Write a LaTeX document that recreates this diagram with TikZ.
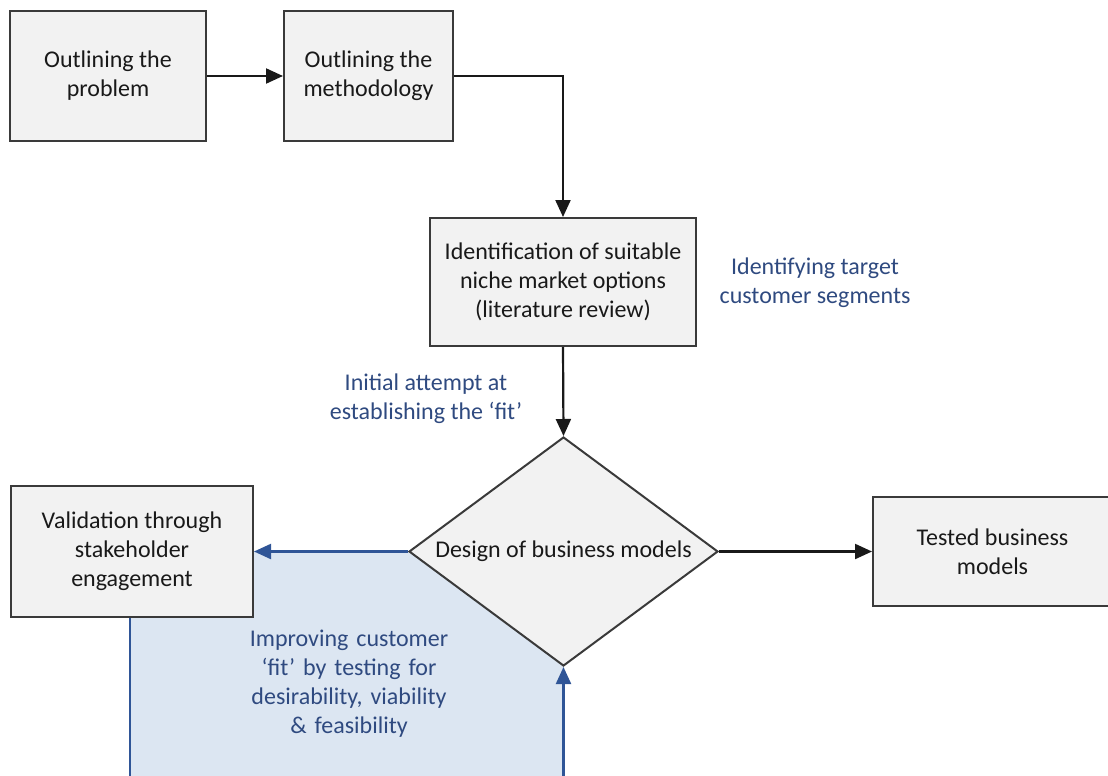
\documentclass[tikz,border=0pt]{standalone}
\usepackage{fontspec}
\setmainfont{Carlito}
\usetikzlibrary{arrows.meta,shapes.geometric}
\definecolor{boxfill}{HTML}{F2F2F2}
\definecolor{boxline}{HTML}{3A3A3A}
\definecolor{bluetxt}{HTML}{2F4A80}
\definecolor{blueline}{HTML}{2F5597}
\definecolor{bluefill}{HTML}{DCE6F2}
\tikzset{
  stepbox/.style={draw=boxline, fill=boxfill, line width=2pt, rectangle, align=center, inner sep=0pt, font=\fontsize{24}{29}\selectfont, text=black!90},
  decision/.style={draw=boxline, fill=boxfill, line width=2pt, diamond, inner sep=0pt},
  blacklink/.style={draw=black!90, line width=2.2pt, -{Triangle[length=17pt,width=15pt]}},
  bluelink/.style={draw=blueline, line width=2.2pt, -{Triangle[length=17pt,width=15pt]}},
  blueplain/.style={draw=blueline, line width=2.2pt},
  note/.style={align=center, text=bluetxt, font=\fontsize{24}{29}\selectfont, inner sep=0pt}
}
\begin{document}
\begin{tikzpicture}[x=1pt,y=-1pt]
\useasboundingbox (0,0) rectangle (1108,776);
\clip (0,0) rectangle (1108,776);
% blue loop area
\fill[bluefill] (130,551) -- (409,551) -- (563,666) -- (563,790) -- (130,790) -- cycle;
% nodes
\node[stepbox, minimum width=196pt, minimum height=130pt] (prob) at (108,76) {Outlining the\\problem};
\node[stepbox, minimum width=169pt, minimum height=130pt] (meth) at (368.5,76) {Outlining the\\methodology};
\node[stepbox, minimum width=266pt, minimum height=128pt] (niche) at (563,282) {Identification of suitable\\niche market options\\(literature review)};
\node[decision, minimum width=309pt, minimum height=229pt,
      label={[font=\fontsize{24}{29}\selectfont, text=black!90]center:Design of business models}] (design) at (563.5,551.5) {};
\node[stepbox, minimum width=242pt, minimum height=131pt] (valid) at (132,551.5) {Validation through\\stakeholder\\engagement};
\node[stepbox, minimum width=239pt, minimum height=109pt] (tested) at (992.5,551.5) {Tested business\\models};
% notes
\node[note] (segm) at (815,283) {Identifying target\\customer segments};
\node[note] (initial) at (426,399) {Initial attempt at\\establishing the ‘fit’};
\node[note, text width=260pt] (improve) at (349,684) {Improving customer\\‘fit’ by testing for\\desirability, viability\\\& feasibility};
% coordinates
\coordinate (loopL) at (130,790);
\coordinate (loopR) at (563.5,790);
\coordinate (bend) at (563,76);
% connectors
\draw[blacklink] (prob.east) -- (meth.west);
\draw[blacklink] (meth.east) -- (bend) -- (niche.north);
\draw[blacklink] (niche.south) -- (design.north);
\draw[blacklink] (design.east) -- (tested.west);
\draw[bluelink] (design.west) -- (valid.east);
\draw[blueplain] (valid.south -| loopL) -- (loopL);
\draw[bluelink] (loopR) -- (design.south);
\end{tikzpicture}
\end{document}
